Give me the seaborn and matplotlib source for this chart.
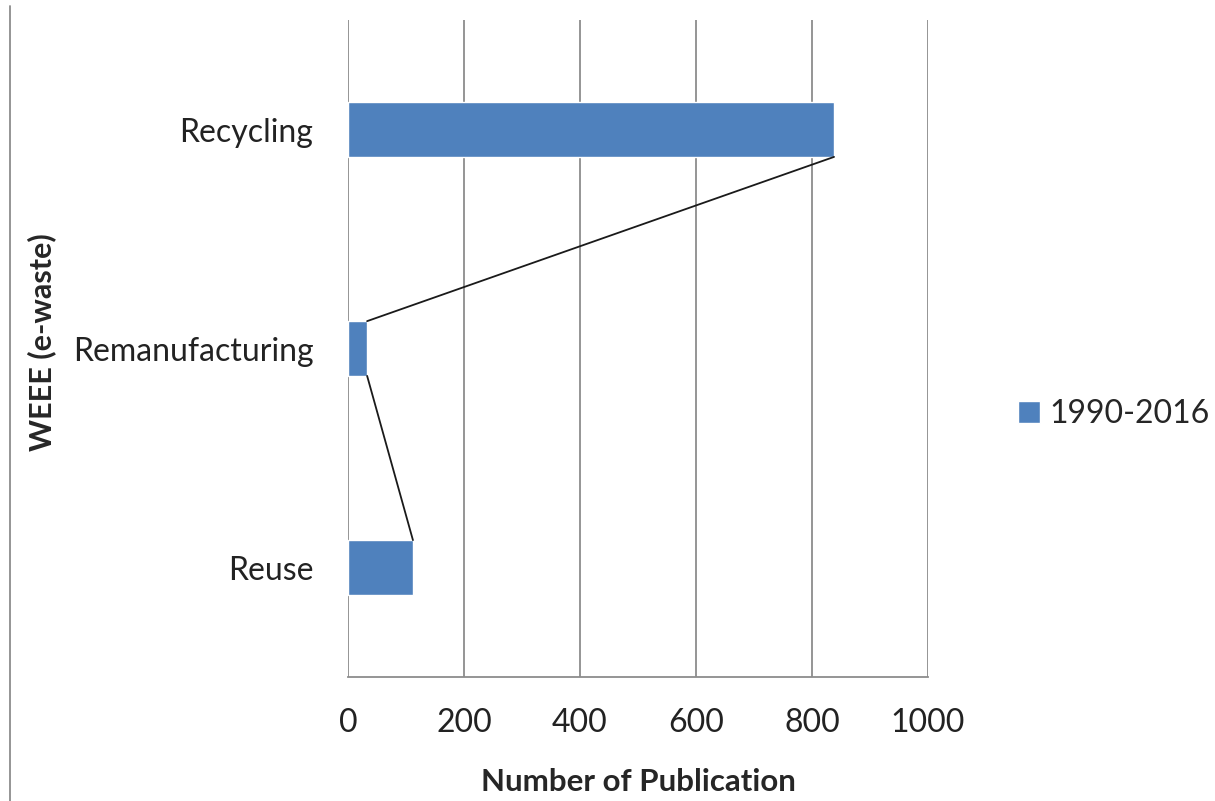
import matplotlib
matplotlib.use("Agg")
import matplotlib.pyplot as plt
import seaborn as sns
import pandas as pd
from matplotlib.lines import Line2D

# data
categories = ["Recycling", "Remanufacturing", "Reuse"]
publications = [838, 33, 112]
series_name = "1990-2016"
x_ticks = [0, 200, 400, 600, 800, 1000]

df = pd.DataFrame({"Category": categories, "Publications": publications})

sns.set_style("white")
plt.rcParams["font.family"] = ["Lato", "DejaVu Sans"]

fig = plt.figure(figsize=(12.15, 8.01), dpi=100)
ax = fig.add_axes([0.2864, 0.1548, 0.4774, 0.8202])

bar_w = 0.25
bar_color = "#4F81BD"
sns.barplot(data=df, x="Publications", y="Category", orient="h",
            color=bar_color, width=bar_w, saturation=1, ax=ax,
            label=series_name)

# Excel style series lines joining the bar ends
for i in range(len(categories) - 1):
    ax.plot([publications[i], publications[i + 1]],
            [i + bar_w / 2, i + 1 - bar_w / 2],
            color="#1a1a1a", lw=1.3, zorder=3)

ax.set_xlim(0, 1000)
ax.set_ylim(len(categories) - 0.5, -0.5)
ax.set_xticks(x_ticks)
ax.xaxis.grid(True, color="#8c8c8c", lw=1.3)
ax.set_axisbelow(True)
for s in ["top", "right", "left"]:
    ax.spines[s].set_visible(False)
ax.spines["bottom"].set_color("#8c8c8c")
ax.spines["bottom"].set_linewidth(1.3)
ax.tick_params(axis="x", direction="out", length=12, width=1.3,
               color="#8c8c8c", labelsize=23, labelcolor="#222222", pad=10)
ax.tick_params(axis="y", length=0, labelsize=23, labelcolor="#222222", pad=25)

ax.set_xlabel("Number of Publication", fontsize=22.5, fontweight="bold",
              labelpad=22)
ax.set_ylabel("WEEE (e-waste)", fontsize=22, fontweight="bold")
ax.yaxis.set_label_coords(-0.503, 0.51)

ax.legend(loc="center left", bbox_to_anchor=(1.105, 0.40), frameon=False,
          fontsize=23, handlelength=0.7, handleheight=0.7,
          handletextpad=0.3)

# thin border line at the left edge of the image
fig.add_artist(Line2D([0.0082, 0.0082], [0.0, 0.993], color="#8c8c8c",
                      lw=1.3, transform=fig.transFigure))

fig.savefig("out.png", dpi=100)
